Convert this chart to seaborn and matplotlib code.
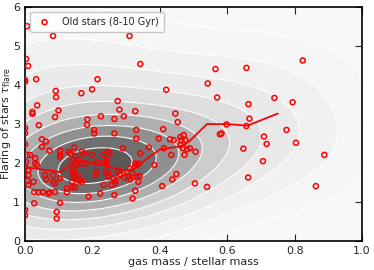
import numpy as np
import pandas as pd
import seaborn as sns
import matplotlib.pyplot as plt
from matplotlib.colors import LinearSegmentedColormap

# old stars: gas fraction vs flaring
gas_frac = [
    0.006, 0.083, 0.31, 0.003, 0.009, 0.342, 0.0, 0.0, 0.033, 0.091, 0.092, 0.167, 0.199, 0.215,
    0.419, 0.275, 0.036, 0.022, 0.022, 0.099, 0.28, 0.327, 0.446, 0.453, 0.089, 0.185, 0.225,
    0.265, 0.293, 0.041, 0.184, 0.0, 0.0, 0.205, 0.33, 0.41, 0.205, 0.265,
    0.565, 0.657, 0.824, 0.542, 0.57, 0.74, 0.663, 0.794, 0.666, 0.776, 0.578, 0.583, 0.709,
    0.717, 0.598, 0.657, 0.648, 0.706, 0.804, 0.888, 0.504, 0.54, 0.662, 0.863, 0.489, 0.506,
    0.0, 0.05, 0.062, 0.05, 0.072, 0.104, 0.104, 0.104, 0.129, 0.134, 0.146, 0.149, 0.169, 0.176,
    0.159, 0.164, 0.198, 0.215, 0.238, 0.245, 0.25, 0.005, 0.015, 0.03, 0.03, 0.0, 0.003,
    0.035, 0.01, 0.01, 0.007, 0.01, 0.025, 0.027, 0.04, 0.06, 0.063, 0.084, 0.084, 0.089, 0.07,
    0.089, 0.104, 0.124, 0.124, 0.104, 0.027, 0.0, 0.0, 0.094, 0.094, 0.139, 0.144, 0.159,
    0.169, 0.223, 0.188, 0.208, 0.144, 0.154, 0.142, 0.18, 0.213, 0.233, 0.243, 0.241, 0.245,
    0.29, 0.33, 0.367, 0.397, 0.412, 0.43, 0.441, 0.461, 0.469, 0.473, 0.461, 0.471, 0.384,
    0.327, 0.332, 0.337, 0.303, 0.307, 0.318, 0.332, 0.336, 0.312, 0.327, 0.319, 0.407, 0.437,
    0.449, 0.275, 0.281, 0.263, 0.268, 0.256, 0.248, 0.233, 0.213, 0.142, 0.149, 0.142, 0.156,
    0.164, 0.149, 0.074, 0.053, 0.342, 0.434, 0.464, 0.476, 0.481, 0.265, 0.312, 0.24, 0.34,
    0.295, 0.283, 0.268,
]
tau_flare = [
    5.51, 5.26, 5.26, 4.67, 4.49, 4.54, 4.13, 4.09, 4.15, 3.85, 3.69, 3.79, 3.89, 4.15,
    3.88, 3.59, 3.48, 3.31, 3.26, 3.35, 3.37, 3.33, 3.27, 3.05, 3.18, 3.12, 3.2,
    3.13, 3.2, 2.97, 2.98, 2.9, 2.77, 2.85, 2.85, 2.87, 2.76, 2.76,
    4.41, 4.44, 4.63, 4.04, 3.68, 3.67, 3.51, 3.56, 3.14, 2.85, 2.74, 2.76, 2.68,
    2.49, 2.99, 2.95, 2.37, 2.05, 2.52, 2.21, 1.48, 1.39, 1.63, 1.41, 2.38, 2.29,
    2.48, 2.61, 2.55, 2.42, 2.32, 2.32, 2.21, 2.15, 2.29, 2.25, 2.40, 2.19, 2.29, 2.25,
    2.08, 1.99, 2.21, 2.03, 2.03, 2.29, 2.25, 2.21, 2.21, 2.12, 1.99, 1.89, 2.03,
    1.95, 1.82, 1.69, 1.55, 1.44, 1.52, 1.26, 1.25, 1.69, 1.58, 1.69, 1.52, 1.48, 1.22,
    1.26, 1.61, 1.35, 1.25, 0.98, 0.97, 0.80, 0.66, 0.75, 0.58, 1.52, 1.69, 1.56,
    1.52, 1.22, 1.14, 1.69, 1.86, 1.95, 2.08, 1.99, 2.01, 2.21, 2.06, 1.99, 1.78,
    2.38, 2.63, 2.40, 2.63, 2.38, 2.61, 2.59, 2.46, 2.38, 2.21, 2.67, 2.72, 1.95,
    1.99, 1.95, 1.99, 1.76, 1.65, 1.74, 1.65, 1.52, 1.58, 1.29, 1.09, 1.41, 1.58,
    1.72, 1.78, 1.72, 1.61, 1.48, 1.44, 1.65, 1.44, 1.78, 1.38, 1.38, 1.78, 1.69,
    1.56, 1.65, 1.25, 1.26, 2.25, 2.21, 2.59, 2.59, 2.35, 1.18, 1.86, 1.74, 1.67,
    1.63, 1.69, 1.55,
]

# running median
med_x = [0.0, 0.104, 0.155, 0.185, 0.295, 0.32, 0.36, 0.40, 0.44, 0.47, 0.49, 0.54, 0.60, 0.66, 0.75]
med_y = [1.90, 1.77, 2.07, 2.02, 1.82, 1.82, 2.10, 2.35, 2.40, 2.45, 2.58, 3.00, 3.00, 2.96, 3.27]

df = pd.DataFrame({"gas": gas_frac, "tau": tau_flare})

sns.set_style("ticks")
plt.rcParams.update({
    "xtick.direction": "in", "ytick.direction": "in",
    "xtick.top": True, "ytick.right": True,
    "xtick.major.size": 5, "ytick.major.size": 5,
    "axes.linewidth": 1.2,
})

fig = plt.figure(figsize=(3.74, 2.70), dpi=100)
ax = fig.add_axes([0.067, 0.107, 0.901, 0.867])
ax.set_facecolor("#f8f8f8")

greys = LinearSegmentedColormap.from_list(
    "g", ["#f8f8f8", "#e8e8e8", "#d2d2d2", "#a8a8a8", "#787878", "#505050"])
lev = [0.03, 0.09, 0.18, 0.3, 0.43, 0.56, 0.69, 0.81, 0.92]
sns.kdeplot(data=df, x="gas", y="tau", fill=True, levels=lev + [1.0], thresh=0,
            cmap=greys, bw_adjust=2.0, cut=10, ax=ax, zorder=1)
sns.kdeplot(data=df, x="gas", y="tau", fill=False, levels=lev, colors="white",
            linewidths=0.8, bw_adjust=2.0, cut=10, ax=ax, zorder=2)

ax.scatter(df["gas"], df["tau"], s=13, facecolors="none", edgecolors="red",
           linewidths=1.1, label="Old stars (8-10 Gyr)", zorder=4)
ax.plot(med_x, med_y, color="red", lw=1.3, zorder=3)

ax.set_xlim(0, 1.0)
ax.set_ylim(0, 6)
ax.set_xticks([0, 0.2, 0.4, 0.6, 0.8, 1.0])
ax.set_yticks(range(7))
ax.tick_params(labelsize=8)
ax.set_xlabel("gas mass / stellar mass", fontsize=8, labelpad=1)
ax.set_ylabel(r"Flaring of stars $\tau_{\rm flare}$", fontsize=8)
ax.yaxis.set_label_coords(-0.035, 0.5)
ax.legend(loc="upper left", fontsize=7, frameon=True, handletextpad=0.8,
          borderpad=0.5, edgecolor="#bbbbbb")
for s in ax.spines.values():
    s.set_color("black")

fig.savefig("out.png", dpi=100)
